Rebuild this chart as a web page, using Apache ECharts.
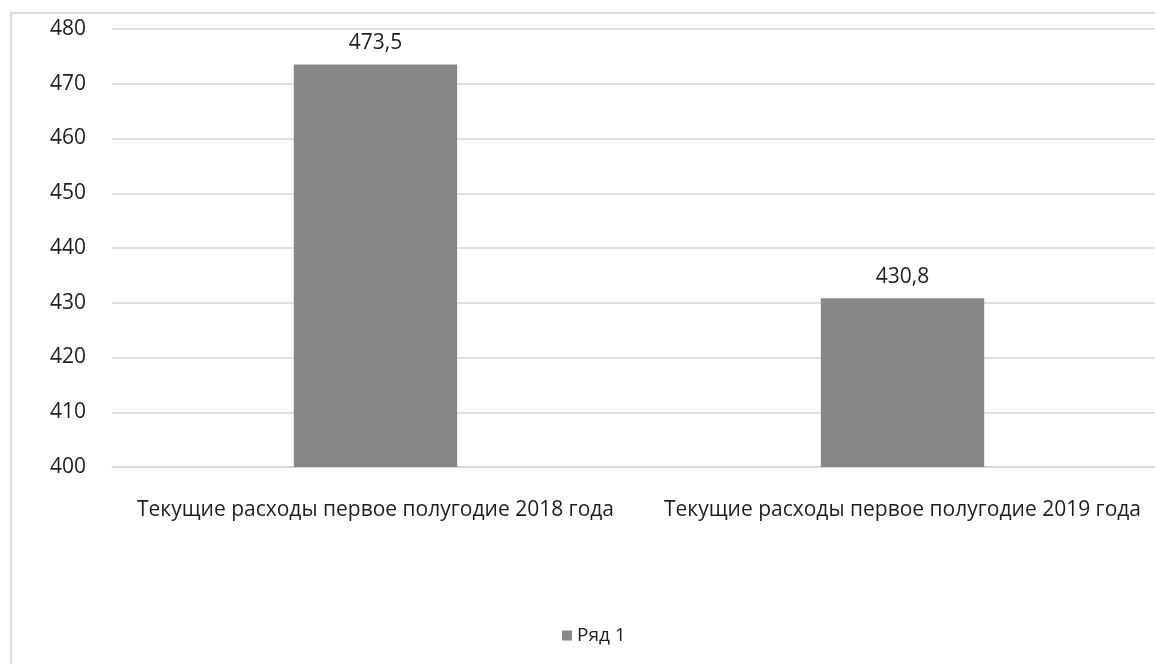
<!DOCTYPE html>
<html>
<head>
<meta charset="utf-8">
<script src="https://cdn.jsdelivr.net/npm/echarts@6/dist/echarts.min.js"></script>
<style>
  html, body { margin: 0; padding: 0; background: #fff; }
  #main { width: 1155px; height: 664px; }
</style>
</head>
<body>
<div id="main"></div>
<script>
var categories = ['Текущие расходы первое полугодие 2018 года', 'Текущие расходы первое полугодие 2019 года'];
var seriesName = 'Ряд 1';
var values = [473.5, 430.8];

var chartDom = document.getElementById('main');
var myChart = echarts.init(chartDom);
var font = '"Open Sans", sans-serif';

var option = {
    animation: false,
    textStyle: { fontFamily: font },
    graphic: [
        {
            type: 'rect',
            shape: { x: 11, y: 13, width: 1160, height: 670 },
            style: { fill: 'none', stroke: '#cfcfcf', lineWidth: 1.5 },
            silent: true
        }
    ],
    legend: {
        data: [seriesName],
        left: 557,
        bottom: 14,
        itemWidth: 10,
        itemHeight: 10,
        icon: 'rect',
        itemGap: 6,
        textStyle: { fontFamily: font, fontSize: 19, color: '#1e1e1e' }
    },
    grid: {
        left: 112,
        top: 29,
        width: 1054,
        bottom: 197,
        outerBoundsMode: 'none'
    },
    xAxis: {
        type: 'category',
        data: categories,
        axisLine: { show: true, lineStyle: { color: '#d4d4d4', width: 1.5 } },
        axisTick: { show: false },
        axisLabel: { fontFamily: font, fontSize: 21, color: '#1e1e1e', margin: 33, interval: 0 }
    },
    yAxis: {
        type: 'value',
        min: 400,
        max: 480,
        interval: 10,
        axisLine: { show: false },
        axisTick: { show: false },
        axisLabel: { fontFamily: font, fontSize: 21, color: '#1e1e1e', margin: 26 },
        splitLine: { lineStyle: { color: '#d4d4d4', width: 1.5 } }
    },
    series: [
        {
            name: seriesName,
            type: 'bar',
            data: values,
            barWidth: '31%',
            itemStyle: { color: '#878787' },
            label: {
                show: true,
                position: 'top',
                distance: 11,
                fontFamily: font,
                fontSize: 21,
                color: '#1e1e1e',
                formatter: function (p) { return String(p.value).replace('.', ','); }
            }
        }
    ]
};

option && myChart.setOption(option);
</script>
</body>
</html>
